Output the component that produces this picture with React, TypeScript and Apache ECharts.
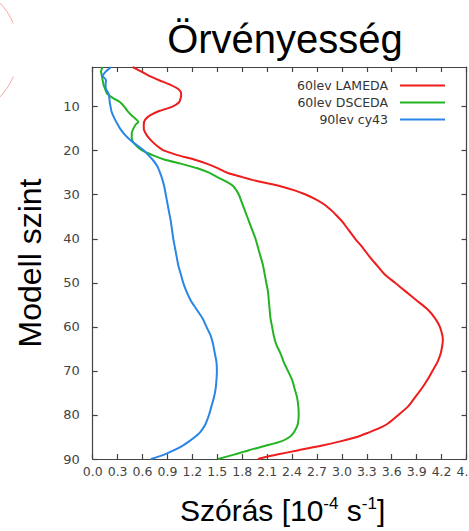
import React, { useEffect, useRef } from "react";
import * as echarts from "echarts";

// Model-level profiles of the vorticity standard deviation [1e-4 1/s]
const seriesNames = ["60lev LAMEDA", "60lev DSCEDA", "90lev cy43"];
const seriesColors = ["#ee1c1c", "#22b422", "#2a86e6"];

const lamedaLevels = [1, 2, 3, 4, 5, 6, 7, 8, 9, 10, 11, 12, 13, 14, 15, 16, 17, 18, 19, 20, 21, 22, 23, 24, 25, 26, 27, 28, 29, 30, 31, 32, 33, 34, 35, 36, 38, 40, 42, 44, 46, 48, 50, 52, 54, 56, 58, 60, 62, 63, 64, 66, 68, 70, 72, 74, 76, 78, 80, 82, 83, 84, 85, 86, 87, 88, 89, 90];
const lamedaValues = [0.48, 0.58, 0.68, 0.8, 0.93, 1.03, 1.065, 1.06, 1.04, 0.96, 0.8, 0.69, 0.63, 0.615, 0.615, 0.635, 0.67, 0.72, 0.78, 0.86, 1.02, 1.22, 1.38, 1.51, 1.62, 1.8, 2.0, 2.25, 2.43, 2.57, 2.68, 2.77, 2.84, 2.9, 2.95, 3.0, 3.08, 3.16, 3.25, 3.33, 3.42, 3.51, 3.64, 3.77, 3.9, 4.03, 4.12, 4.18, 4.21, 4.215, 4.21, 4.19, 4.15, 4.09, 4.03, 3.96, 3.88, 3.8, 3.68, 3.55, 3.45, 3.32, 3.18, 2.98, 2.75, 2.48, 2.22, 1.99];

const dscedaLevels = [1, 2, 3, 4, 5, 6, 7, 8, 9, 10, 11, 12, 13, 13.5, 14, 15, 16, 17, 18, 19, 20, 21, 22, 23, 24, 25, 26, 27, 28, 29, 30, 32, 34, 36, 38, 40, 42, 44, 46, 48, 50, 52, 54, 56, 58, 60, 62, 64, 66, 68, 70, 72, 74, 76, 78, 80, 82, 83, 84, 85, 86, 87, 88, 89, 90];
const dscedaValues = [0.12, 0.1, 0.11, 0.12, 0.13, 0.15, 0.17, 0.24, 0.33, 0.38, 0.42, 0.47, 0.53, 0.55, 0.52, 0.49, 0.47, 0.47, 0.485, 0.53, 0.6, 0.72, 0.86, 1.07, 1.26, 1.4, 1.5, 1.61, 1.69, 1.73, 1.76, 1.8, 1.84, 1.88, 1.92, 1.96, 1.99, 2.02, 2.05, 2.07, 2.09, 2.11, 2.12, 2.13, 2.14, 2.16, 2.18, 2.21, 2.26, 2.3, 2.35, 2.4, 2.43, 2.46, 2.475, 2.48, 2.47, 2.45, 2.42, 2.37, 2.27, 2.08, 1.88, 1.7, 1.51];

const cy43Levels = [1, 1.5, 2, 3, 4, 5, 6, 7, 8, 9, 10, 11, 12, 13, 14, 15, 16, 17, 18, 19, 20, 21, 22, 23, 24, 25, 26, 28, 30, 32, 34, 36, 38, 40, 42, 44, 46, 48, 50, 52, 54, 56, 58, 60, 62, 64, 66, 68, 70, 72, 74, 76, 78, 80, 82, 83, 84, 85, 86, 87, 88, 89, 90];
const cy43Values = [0.22, 0.19, 0.16, 0.12, 0.16, 0.155, 0.16, 0.19, 0.2, 0.205, 0.215, 0.225, 0.245, 0.27, 0.3, 0.33, 0.37, 0.42, 0.48, 0.55, 0.62, 0.67, 0.72, 0.76, 0.79, 0.81, 0.83, 0.86, 0.88, 0.9, 0.92, 0.94, 0.955, 0.97, 0.99, 1.01, 1.03, 1.06, 1.09, 1.13, 1.18, 1.25, 1.32, 1.37, 1.42, 1.45, 1.47, 1.49, 1.495, 1.49, 1.48, 1.46, 1.43, 1.4, 1.36, 1.33, 1.29, 1.23, 1.16, 1.08, 0.98, 0.86, 0.7];

const levelTicks = [10, 20, 30, 40, 50, 60, 70, 80, 90];

const frameColor = "#444";
const labelColor = "#444";
const tickFont = "DejaVu Sans";
const titleFont = "Liberation Sans, Arial, sans-serif";

function pairs(levels: number[], values: number[]) {
  return levels.map((lev, i) => [values[i], lev]);
}

export default function App() {
  const ref = useRef<HTMLDivElement>(null);

  useEffect(() => {
    if (!ref.current) return;
    const chart = echarts.init(ref.current, null, { renderer: "svg" });

    const frameLine = { show: true, lineStyle: { color: frameColor, width: 1.2 } };
    const innerTick = { show: true, inside: true, length: 5, lineStyle: { color: frameColor, width: 1.2 } };

    const xCommon = {
      type: "value" as const,
      min: 0,
      max: 4.5,
      interval: 0.3,
      axisLine: { ...frameLine, onZero: false },
      axisTick: innerTick,
      splitLine: { show: false },
    };

    const yCommon = {
      type: "value" as const,
      inverse: true,
      min: 1,
      max: 90,
      axisLine: { ...frameLine, onZero: false },
      axisTick: { ...innerTick, customValues: levelTicks },
      splitLine: { show: false },
    };

    const lineSeries = [
      pairs(lamedaLevels, lamedaValues),
      pairs(dscedaLevels, dscedaValues),
      pairs(cy43Levels, cy43Values),
    ].map((data, i) => ({
      name: seriesNames[i],
      type: "line" as const,
      data,
      showSymbol: false,
      symbol: "none",
      smooth: 0.25,
      color: seriesColors[i],
      lineStyle: { color: seriesColors[i], width: 2 },
      z: 3,
    }));

    chart.setOption({
      animation: false,
      backgroundColor: "#ffffff",
      title: {
        text: "Örvényesség",
        left: 280,
        textAlign: "center",
        top: 14,
        textStyle: { fontFamily: titleFont, fontSize: 40, fontWeight: "normal", color: "#000" },
      },
      legend: {
        orient: "vertical",
        align: "right",
        right: 19,
        top: 74,
        itemWidth: 45,
        itemHeight: 2,
        itemGap: 4,
        icon: "rect",
        data: seriesNames,
        textStyle: {
          fontFamily: tickFont,
          fontSize: 12.5,
          color: "#333",
          padding: [0, 7, 0, 0],
        },
      },
      grid: {
        left: 92.7,
        right: 2.5,
        top: 67,
        bottom: 72,
        outerBoundsMode: "none",
        containLabel: false,
      },
      xAxis: [
        {
          ...xCommon,
          position: "bottom",
          axisLabel: {
            color: labelColor,
            fontFamily: tickFont,
            fontSize: 12.5,
            margin: 6,
            showMaxLabel: true,
            hideOverlap: false,
            formatter: (v: number) => v.toFixed(1),
          },
          name: "Szórás [10{sup|-4} s{sup|-1}]",
          nameLocation: "middle",
          nameGap: 36,
          nameTextStyle: {
            fontFamily: titleFont,
            fontSize: 30,
            color: "#000",
            padding: [0, 0, 0, 6],
            rich: {
              sup: {
                fontFamily: titleFont,
                fontSize: 17,
                color: "#000",
                verticalAlign: "top",
              },
            },
          },
        },
        { ...xCommon, position: "top", axisLabel: { show: false } },
      ],
      yAxis: [
        {
          ...yCommon,
          position: "left",
          axisLabel: {
            customValues: levelTicks,
            color: labelColor,
            fontFamily: tickFont,
            fontSize: 13,
            margin: 13,
          },
          name: "Modell szint",
          nameLocation: "middle",
          nameGap: 47,
          nameTextStyle: { fontFamily: titleFont, fontSize: 32, color: "#000" },
        },
        { ...yCommon, position: "right", axisLabel: { show: false } },
      ],
      graphic: [
        {
          type: "arc",
          shape: { cx: -49.6, cy: 50, r: 68.3, startAngle: -0.8, endAngle: -0.401 },
          style: { stroke: "#f5a8a8", fill: "none", lineWidth: 1 },
        },
        {
          type: "arc",
          shape: { cx: -49.6, cy: 50, r: 68.3, startAngle: 0.401, endAngle: 0.8 },
          style: { stroke: "#f5a8a8", fill: "none", lineWidth: 1 },
        },
      ],
      series: lineSeries,
    });

    return () => chart.dispose();
  }, []);

  return (
    <div
      ref={ref}
      style={{ position: "absolute", left: 0, top: 0, width: 469, height: 531 }}
    />
  );
}
